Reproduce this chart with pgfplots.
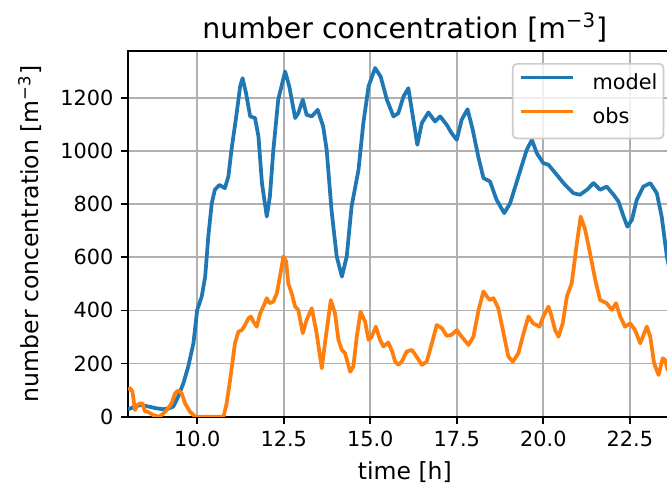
\documentclass[border=0pt]{standalone}
\usepackage{pgfplots}
\pgfplotsset{compat=1.18}
\usepackage{fontspec}
\setmainfont{DejaVu Sans}
\definecolor{mblue}{HTML}{1F77B4}
\definecolor{morange}{HTML}{FF7F0E}
\definecolor{gridgray}{HTML}{B0B0B0}
\begin{document}
\fontsize{10}{12}\selectfont
\begin{tikzpicture}
% crop like the reference: right side of the axis falls outside the page
\path[use as bounding box] (-61.44pt,-32.8pt) rectangle (258.72pt,200pt);
\begin{axis}[
  at={(0pt,0pt)}, anchor=south west,
  scale only axis, width=265.8pt, height=175.5pt,
  xmin=8, xmax=24, ymin=0, ymax=1376,
  xtick={10,12.5,15,17.5,20,22.5},
  ytick={0,200,400,600,800,1000,1200},
  xticklabel style={/pgf/number format/.cd, fixed, fixed zerofill, precision=1},
  yticklabel style={/pgf/number format/.cd, fixed, 1000 sep={}},
  /pgf/number format/assume math mode=true,
  tick label style={font=\fontsize{10}{12}\selectfont},
  tick align=outside, major tick length=3.5pt,
  every tick/.style={black, line width=0.8pt},
  xtick pos=bottom, ytick pos=left,
  axis line style={line width=0.8pt},
  grid=major,
  major grid style={color=gridgray, line width=0.8pt},
  title={number concentration [m\textsuperscript{−3}]},
  title style={at={(axis description cs:0.5,1)}, anchor=base, font=\fontsize{13.6}{16}\selectfont},
  xlabel={time [h]},
  xlabel style={at={(axis description cs:0.5,-0.152)}, anchor=center, font=\fontsize{11.3}{13}\selectfont},
  ylabel={number concentration [m\textsuperscript{−3}]},
  ylabel style={at={(axis description cs:-0.177,0.5)}, anchor=center, rotate=0, font=\fontsize{11.3}{13}\selectfont},
  legend cell align=left,
  legend style={at={(axis description cs:0.6934,0.9672)}, anchor=north west,
    draw=black!20, line width=0.8pt, rounded corners=2pt,
    fill=white, fill opacity=0.8, text opacity=1,
    font=\fontsize{10}{12}\selectfont,
    inner xsep=2.9pt, inner ysep=5pt,
    nodes={inner sep=0pt, text height=7.5pt, text depth=2pt},
    row sep=6.8pt, column sep=8.6pt},
  legend image code/.code={\draw[#1, line width=1.8pt] (0pt,3.2pt) -- (25pt,3.2pt);},
]
\addplot[color=mblue, line width=1.8pt, line join=round] coordinates {
(8.0,28) (8.15,35) (8.35,44) (8.6,38) (8.8,32) (9.02,28) (9.2,32) (9.31,38)
(9.45,75) (9.6,126) (9.74,188) (9.89,276) (10.0,402) (10.13,452) (10.23,527)
(10.32,678) (10.42,803) (10.51,854) (10.64,872) (10.8,860) (10.9,904) (10.99,1004)
(11.14,1142) (11.24,1243) (11.31,1274) (11.41,1218) (11.53,1130) (11.67,1124)
(11.77,1054) (11.87,879) (12.01,753) (12.1,829) (12.2,1004) (12.34,1193)
(12.54,1299) (12.66,1243) (12.83,1124) (12.92,1142) (13.05,1193) (13.16,1136)
(13.31,1130) (13.48,1155) (13.64,1092) (13.74,1004) (13.88,778) (14.03,603)
(14.18,527) (14.32,603) (14.46,791) (14.66,929) (14.8,1105) (14.95,1243)
(15.14,1312) (15.3,1280) (15.48,1193) (15.67,1130) (15.81,1142) (15.96,1205)
(16.1,1236) (16.2,1155) (16.36,1023) (16.49,1105) (16.68,1145) (16.87,1111)
(17.02,1130) (17.21,1098) (17.35,1067) (17.5,1042) (17.64,1117) (17.81,1157)
(17.96,1080) (18.12,979) (18.27,898) (18.46,885) (18.65,816) (18.87,766)
(19.04,803) (19.28,904) (19.52,1004) (19.67,1042) (19.81,992) (20.0,954)
(20.15,948) (20.39,910) (20.63,872) (20.87,841) (21.06,835) (21.26,854)
(21.45,879) (21.64,854) (21.83,866) (22.03,835) (22.17,810) (22.32,753)
(22.43,715) (22.56,741) (22.7,816) (22.89,866) (23.09,879) (23.28,841)
(23.42,753) (23.57,603) (23.7,520)
};
\addlegendentry{model}
\addplot[color=morange, line width=1.8pt, line join=round] coordinates {
(8.0,100) (8.06,107) (8.13,94) (8.2,25) (8.27,44) (8.35,50) (8.42,50) (8.49,19)
(8.56,19) (8.64,13) (8.73,6) (8.88,0) (8.97,6) (9.12,25) (9.26,50) (9.36,88)
(9.45,98) (9.55,88) (9.65,50) (9.79,19) (9.94,0) (10.76,0) (10.85,50) (10.95,138)
(11.09,276) (11.19,320) (11.29,326) (11.38,345) (11.48,370) (11.55,377)
(11.62,358) (11.72,339) (11.82,389) (11.93,420) (12.01,446) (12.09,427)
(12.2,433) (12.3,464) (12.39,527) (12.49,603) (12.57,584) (12.63,502)
(12.73,464) (12.83,414) (12.92,402) (13.05,314) (13.16,364) (13.31,408)
(13.45,314) (13.6,182) (13.69,276) (13.86,439) (13.98,389) (14.08,289)
(14.18,251) (14.27,239) (14.42,169) (14.51,188) (14.61,301) (14.72,395)
(14.85,358) (14.95,289) (15.04,301) (15.16,339) (15.28,290) (15.38,264)
(15.52,279) (15.62,250) (15.72,207) (15.81,195) (15.91,207) (16.05,245)
(16.2,251) (16.34,226) (16.49,195) (16.63,207) (16.78,276) (16.92,345)
(17.07,333) (17.21,304) (17.35,308) (17.5,326) (17.64,301) (17.84,270)
(17.98,301) (18.13,402) (18.27,471) (18.37,452) (18.46,439) (18.56,446)
(18.7,408) (18.85,314) (18.99,226) (19.12,207) (19.28,239) (19.43,314)
(19.57,377) (19.71,351) (19.89,339) (20.0,377) (20.15,414) (20.24,377)
(20.34,326) (20.44,301) (20.56,351) (20.68,452) (20.82,502) (20.97,653)
(21.08,753) (21.21,703) (21.33,628) (21.5,515) (21.64,439) (21.83,427)
(21.98,402) (22.1,427) (22.22,377) (22.36,339) (22.51,351) (22.65,326)
(22.8,276) (22.99,339) (23.09,301) (23.2,201) (23.33,157) (23.45,220)
(23.52,213) (23.59,176) (23.7,170)
};
\addlegendentry{obs}
\end{axis}
\end{tikzpicture}
\end{document}
